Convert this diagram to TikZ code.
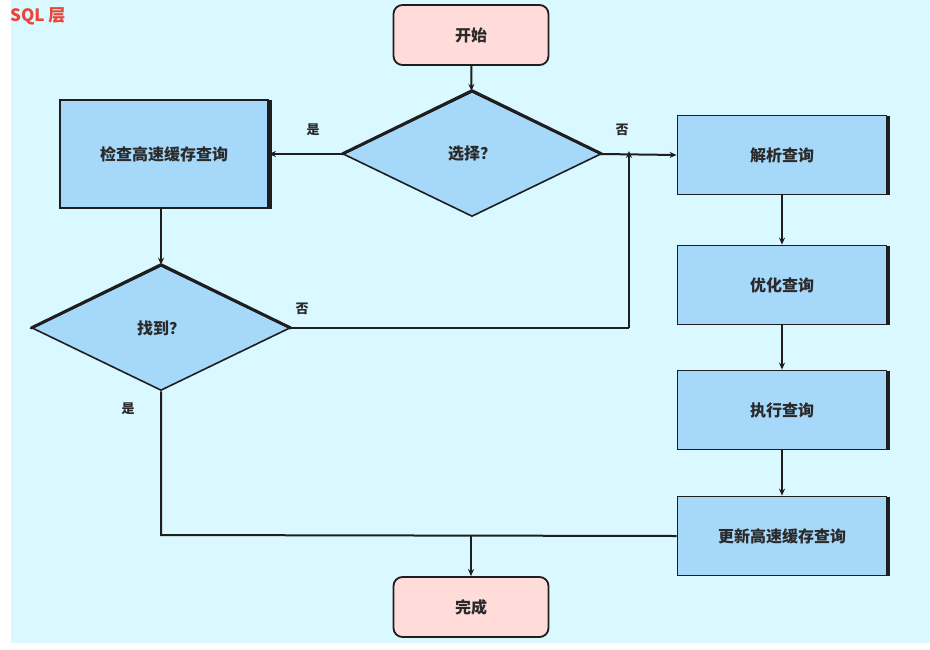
\documentclass[tikz,border=0pt]{standalone}
\usepackage{fontspec}
\setmainfont{Liberation Sans}
\newfontfamily\cjk{Noto Sans CJK SC}
\usetikzlibrary{shapes.geometric,arrows.meta}
\definecolor{bgcyan}{HTML}{DAF8FF}
\definecolor{boxblue}{HTML}{A6D8FA}
\definecolor{termpink}{HTML}{FFDCDA}
\definecolor{titlered}{HTML}{E8463A}
\definecolor{edgedark}{HTML}{1E1E1E}
\definecolor{textdark}{HTML}{2A2A2A}
\begin{document}
\begin{tikzpicture}[x=1pt,y=-1pt,
  every node/.style={font=\cjk\bfseries\fontsize{16}{19}\selectfont, text=textdark},
  procbox/.style={draw=edgedark, line width=1.8pt, fill=boxblue, minimum width=208pt, minimum height=80pt, inner sep=0pt},
  termbox/.style={draw=edgedark, line width=1.8pt, fill=termpink, rounded corners=9pt, minimum width=155pt, minimum height=60pt, inner sep=0pt},
  decision/.style={draw=edgedark, line width=1.6pt, fill=boxblue, diamond, aspect=2.08, minimum width=258pt, minimum height=125pt, inner sep=0pt},
  conn/.style={draw=edgedark, line width=2pt, line join=miter},
  arr/.style={conn, -{Stealth[length=7pt,width=6pt]}},
  lbl/.style={font=\cjk\bfseries\fontsize{13}{15}\selectfont}
]
\useasboundingbox (0,0) rectangle (930,649);
\fill[white] (0,0) rectangle (930,649);
\fill[bgcyan] (11,0) rectangle (930,643);
\node[anchor=north west, font=\cjk\bfseries\fontsize{17}{20}\selectfont, text=titlered, inner sep=0pt] (title) at (10,7) {SQL 层};

% nodes
\node[termbox] (start) at (471,35) {开始};
\node[decision] (sel) at (472,154) {选择？};
\node[procbox, minimum height=108pt] (check) at (164,154) {检查高速缓存查询};
\node[decision] (found) at (161,328) {找到？};
\node[procbox, minimum width=209pt, minimum height=79pt] (parse) at (782,155) {解析查询};
\node[procbox, minimum width=209pt, minimum height=79pt] (opt) at (782,285) {优化查询};
\node[procbox, minimum width=209pt, minimum height=79pt] (exec) at (782,410) {执行查询};
\node[procbox, minimum width=209pt, minimum height=79pt] (upd) at (782,536) {更新高速缓存查询};
\node[termbox] (done) at (471,607) {完成};

% shadows on right edges
\foreach \n in {check,parse,opt,exec,upd}{
  \draw[edgedark, line width=3pt] ([xshift=1.5pt,yshift=-1pt]\n.north east) -- ([xshift=1.5pt]\n.south east);
}
% heavier upper edges of the decisions
\foreach \n in {sel,found}{
  \draw[edgedark, line width=3pt, line join=round, line cap=round] (\n.west) -- (\n.north) -- (\n.east);
}

% coordinates
\coordinate (j1) at (629,154);
\coordinate (c2) at (629,328);
\coordinate (b1) at (161,535);
\coordinate (m1) at (471,535);

% connectors
\draw[arr] (start) -- (sel);
\draw[arr] (sel.west) -- (check.east);
\draw[arr] (sel.east) -- (parse.west);
\draw[arr] (check.south -| found.north) -- (found.north);
\draw[conn] (found.east) -- (c2);
\draw[arr] (c2) -- ([yshift=3pt]j1);
\draw[arr] (parse) -- (opt);
\draw[arr] (opt) -- (exec);
\draw[arr] (exec) -- (upd);
\draw[conn] (found.south) -- (b1) -- (upd.west);
\draw[arr] (m1) -- (done.north);

% labels
\node[lbl] (lyes1) at (313,130) {是};
\node[lbl] (lno1) at (622,130) {否};
\node[lbl] (lno2) at (302,309) {否};
\node[lbl] (lyes2) at (128,409) {是};
\end{tikzpicture}
\end{document}
